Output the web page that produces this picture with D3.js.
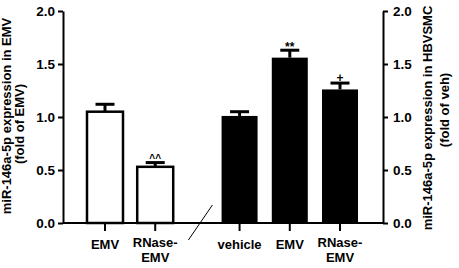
<!DOCTYPE html>
<html>
<head>
<meta charset="utf-8">
<script src="https://cdn.jsdelivr.net/npm/d3@7"></script>
<style>
  body { margin: 0; background: #fff; }
  text { font-family: "Liberation Sans", Arial, sans-serif; font-weight: bold; }
</style>
</head>
<body>
<div id="chart"></div>
<script>
// data
const groups = ["EMV", "EMV", "HBVSMC", "HBVSMC", "HBVSMC"];
const labels = [["EMV"], ["RNase-", "EMV"], ["vehicle"], ["EMV"], ["RNase-", "EMV"]];
const means = [1.05, 0.53, 1.01, 1.56, 1.26];
const errs = [0.07, 0.04, 0.04, 0.07, 0.06];
const marks = ["", "^^", "", "**", "+"];
const yTicks = [0, 0.5, 1.0, 1.5, 2.0];

// slot of each bar along the x axis (gap between the two groups)
const slots = [0, 1, 2.68, 3.68, 4.68];

const width = 459, height = 268;
const axL = 63, axR = 383, axTop = 11, base = 223;

const svg = d3.select("#chart")
  .append("svg")
  .attr("width", width)
  .attr("height", height);

const x = d3.scaleLinear()
  .domain([0, 4.68])
  .range([105, 340]);

const y = d3.scaleLinear()
  .domain([0, 2])
  .range([base, axTop]);

const barW = 36;

// left axis
svg.append("g")
  .attr("transform", `translate(${axL},0)`)
  .call(d3.axisLeft(y).tickValues(yTicks).tickFormat(d3.format(".1f")).tickSize(5).tickSizeOuter(0).tickPadding(3))
  .call(g => g.selectAll("path,line").attr("stroke", "#000").attr("stroke-width", 2))
  .call(g => g.selectAll("text").attr("font-size", 13.5).attr("font-family", null));

// right axis
svg.append("g")
  .attr("transform", `translate(${axR},0)`)
  .call(d3.axisRight(y).tickValues(yTicks).tickFormat(d3.format(".1f")).tickSize(5).tickSizeOuter(0).tickPadding(5))
  .call(g => g.selectAll("path,line").attr("stroke", "#000").attr("stroke-width", 2))
  .call(g => g.selectAll("text").attr("font-size", 13.5).attr("font-family", null));

// baseline
svg.append("line")
  .attr("x1", axL).attr("x2", axR)
  .attr("y1", y(0)).attr("y2", y(0))
  .attr("stroke", "#000").attr("stroke-width", 2);

// bottom ticks
svg.selectAll(".xtick")
  .data(slots)
  .join("line")
  .attr("class", "xtick")
  .attr("x1", d => x(d)).attr("x2", d => x(d))
  .attr("y1", y(0)).attr("y2", y(0) + 8)
  .attr("stroke", "#000").attr("stroke-width", 2);

// category labels
const lab = svg.selectAll(".xlab")
  .data(labels)
  .join("text")
  .attr("class", "xlab")
  .attr("text-anchor", "middle")
  .attr("font-size", 13)
  .attr("x", (d, i) => x(slots[i]))
  .attr("y", d => d.length > 1 ? 247 : 249);
lab.selectAll("tspan")
  .data(d => d)
  .join("tspan")
  .attr("x", function() { return d3.select(this.parentNode).attr("x"); })
  .attr("dy", (d, i) => i === 0 ? 0 : 15)
  .text(d => d);

// error bars (upper half only)
means.forEach(function(m, i) {
  const cx = x(slots[i]);
  svg.append("line")
    .attr("x1", cx).attr("x2", cx)
    .attr("y1", y(m)).attr("y2", y(m + errs[i]))
    .attr("stroke", "#000").attr("stroke-width", 3);
  svg.append("line")
    .attr("x1", cx - 9.5).attr("x2", cx + 9.5)
    .attr("y1", y(m + errs[i])).attr("y2", y(m + errs[i]))
    .attr("stroke", "#000").attr("stroke-width", 3);
});

// bars
svg.selectAll(".bar")
  .data(means)
  .join("rect")
  .attr("class", "bar")
  .attr("x", (d, i) => x(slots[i]) - barW / 2)
  .attr("width", barW)
  .attr("y", d => y(d))
  .attr("height", d => y(0) - y(d))
  .attr("fill", (d, i) => groups[i] === "EMV" ? "#fff" : "#000")
  .attr("stroke", "#000")
  .attr("stroke-width", (d, i) => groups[i] === "EMV" ? 2.5 : 0);

// significance marks
svg.selectAll(".mark")
  .data(marks)
  .join("text")
  .attr("class", "mark")
  .attr("text-anchor", "middle")
  .attr("font-size", d => d === "^^" ? 10 : 12)
  .attr("x", (d, i) => x(slots[i]))
  .attr("y", (d, i) => y(means[i] + errs[i]) + (d === "**" ? 1 : -1))
  .text(d => d);

// axis break slash between the groups
const bx = x(1.9);
svg.append("line")
  .attr("x1", bx - 12).attr("y1", y(0) + 17)
  .attr("x2", bx + 12).attr("y2", y(0) - 18)
  .attr("stroke", "#000").attr("stroke-width", 1);

// axis titles
svg.append("text")
  .attr("transform", "translate(11,116) rotate(-90)")
  .attr("text-anchor", "middle")
  .attr("font-size", 13)
  .text("miR-146a-5p expression in EMV");
svg.append("text")
  .attr("transform", "translate(24,124) rotate(-90)")
  .attr("text-anchor", "middle")
  .attr("font-size", 13)
  .text("(fold of EMV)");

svg.append("text")
  .attr("transform", "translate(432,118) rotate(-90)")
  .attr("text-anchor", "middle")
  .attr("font-size", 13)
  .text("miR-146a-5p expression in HBVSMC");
svg.append("text")
  .attr("transform", "translate(449,110) rotate(-90)")
  .attr("text-anchor", "middle")
  .attr("font-size", 13)
  .text("(fold of veh)");
</script>
</body>
</html>
